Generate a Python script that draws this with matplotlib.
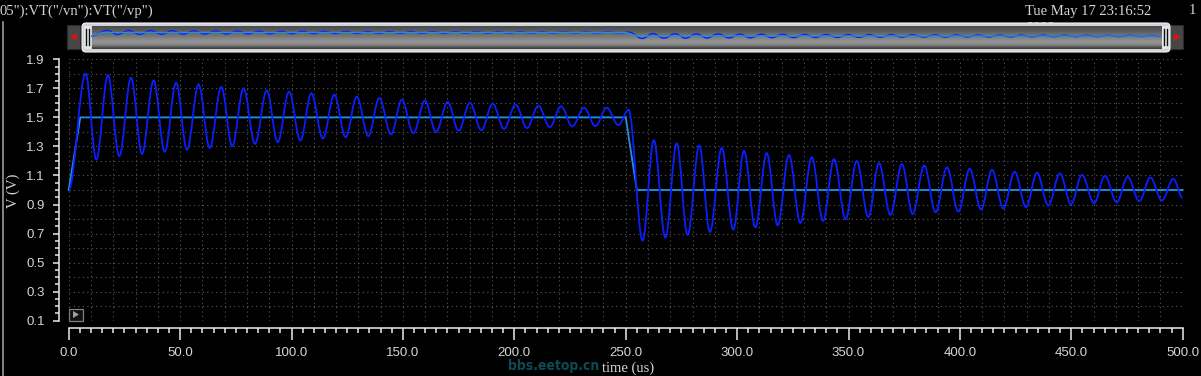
import matplotlib
matplotlib.use("Agg")
import matplotlib.pyplot as plt
import numpy as np
from matplotlib.path import Path
from matplotlib.patches import PathPatch, Rectangle, FancyBboxPatch, Polygon

# vn: peaks and troughs (time in us, volts)
vn_time = [0.0, 7.6, 12.4, 17.6, 22.7, 28.0, 32.9, 38.1, 43.1, 48.2, 53.1,
           58.3, 63.3, 68.5, 73.4, 78.5, 83.6, 88.9, 93.8, 98.9, 104.0,
           108.9, 114.1, 119.2, 124.3, 129.3, 134.5, 139.4, 144.7, 149.5, 154.7,
           159.9, 164.9, 170.1, 175.0, 180.1, 185.2, 190.3, 195.4, 200.6, 205.7,
           210.8, 215.9, 221.0, 226.0, 231.3, 236.4, 241.5, 246.7, 251.3, 257.6,
           262.6, 267.8, 272.9, 277.8, 283.0, 287.8, 293.1, 298.3, 303.1, 308.2,
           313.3, 318.2, 323.3, 328.4, 333.5, 338.6, 343.5, 348.7, 353.7, 358.9,
           363.7, 368.8, 374.0, 378.8, 384.0, 389.1, 394.2, 399.3, 404.4, 409.5,
           414.4, 419.5, 424.6, 429.7, 434.6, 439.7, 444.9, 449.9, 454.8, 460.2,
           465.1, 470.4, 475.3, 480.5, 485.5, 490.7, 495.8, 500.0]
vn_volt = [1.00, 1.80, 1.21, 1.79, 1.233, 1.773, 1.249, 1.755, 1.263, 1.739, 1.277,
           1.727, 1.29, 1.711, 1.302, 1.70, 1.318, 1.686, 1.33, 1.677, 1.341,
           1.666, 1.355, 1.656, 1.364, 1.642, 1.371, 1.633, 1.383, 1.621, 1.392,
           1.615, 1.40, 1.606, 1.408, 1.60, 1.412, 1.594, 1.421, 1.587, 1.426,
           1.58, 1.433, 1.576, 1.438, 1.566, 1.44, 1.566, 1.447, 1.552, 0.652,
           1.343, 0.672, 1.321, 0.69, 1.307, 0.711, 1.29, 0.728, 1.27, 0.743,
           1.254, 0.757, 1.24, 0.773, 1.226, 0.787, 1.212, 0.80, 1.199, 0.814,
           1.185, 0.828, 1.178, 0.835, 1.169, 0.847, 1.155, 0.852, 1.146, 0.866,
           1.139, 0.872, 1.125, 0.881, 1.118, 0.893, 1.114, 0.902, 1.104, 0.909,
           1.097, 0.914, 1.09, 0.923, 1.086, 0.928, 1.077, 0.945]

# vp: step reference
vp_time = [0.0, 5.2, 250.0, 255.0, 500.0]
vp_volt = [1.0, 1.5, 1.5, 1.0, 1.0]

x_major = np.arange(0, 501, 50)
y_major = np.arange(0.1, 1.91, 0.2)

FG = "#d6d6d6"
VN_COLOR = "#0a1eff"
VP_COLOR = "#2490dc"


def smooth_path(times, volts, k=0.36):
    """Cubic path through the extrema with flat tangents at each one."""
    verts = [(times[0], volts[0])]
    codes = [Path.MOVETO]
    for t0, v0, t1, v1 in zip(times[:-1], volts[:-1], times[1:], volts[1:]):
        dt = t1 - t0
        verts += [(t0 + k * dt, v0), (t1 - k * dt, v1), (t1, v1)]
        codes += [Path.CURVE4] * 3
    return Path(verts, codes)


W, H = 1201, 376
fig = plt.figure(figsize=(W / 100, H / 100), dpi=100, facecolor="black")

# pixel overlay for the viewer chrome
over = fig.add_axes([0, 0, 1, 1], zorder=0)
over.set_axis_off()
over.patch.set_alpha(0)

over.plot([2.5, 2.5], [22, 376], color="#9a9a9a", lw=1.2)
over.text(0, 11, '05"):VT("/vn"):VT("/vp")', color=FG, fontsize=10.5,
          family="Liberation Serif", va="center", ha="left", zorder=1)
over.text(1025, 11, "Tue May 17 23:16:52", color=FG, fontsize=10.5,
          family="Liberation Serif", va="center", ha="left", zorder=1)
over.text(1026, 28, "2022", color=FG, fontsize=10.5,
          family="Liberation Serif", va="center", ha="left", zorder=1)
over.text(1189, 11, "1", color=FG, fontsize=10.5,
          family="Liberation Serif", va="center", ha="left", zorder=1)

# scroll bar
over.add_patch(Rectangle((67, 25), 13, 24, facecolor="#464646",
                         edgecolor="#2a2a2a", lw=0.8, zorder=3))
over.add_patch(Rectangle((1169, 25), 14, 24, facecolor="#464646",
                         edgecolor="#2a2a2a", lw=0.8, zorder=3))
over.add_patch(Polygon([[70, 37], [77, 33.5], [77, 40.5]], closed=True,
                       facecolor="#e01010", edgecolor="none", zorder=4))
over.add_patch(Polygon([[1181, 37], [1174, 33.5], [1174, 40.5]], closed=True,
                       facecolor="#e01010", edgecolor="none", zorder=4))
over.add_patch(FancyBboxPatch((82, 23), 1088, 29, boxstyle="round,pad=0,rounding_size=4",
                              facecolor="#cfd3da", edgecolor="#f2f2f2", lw=0.8, zorder=3))
grad = np.array([0.30, 0.33, 0.36, 0.40, 0.44, 0.48, 0.52, 0.56, 0.58, 0.54, 0.42, 0.26])
over.imshow(grad[:, None], cmap="gray", vmin=0, vmax=1, aspect="auto",
            extent=(92, 1164, 49, 26), zorder=4, interpolation="bilinear")
for hx in (85, 1163):
    over.add_patch(Rectangle((hx - 1, 26), 7, 23, facecolor="#e4e6ea",
                             edgecolor="none", zorder=4))
    over.plot([hx + 1, hx + 1], [29, 45], color="#101010", lw=1.0, zorder=5)
    over.plot([hx + 3.5, hx + 3.5], [29, 45], color="#101010", lw=1.0, zorder=5)

# play button
over.add_patch(Rectangle((68.5, 308.5), 14, 12, facecolor="#111111",
                         edgecolor="#808080", lw=0.9, zorder=3))
over.add_patch(Polygon([[73, 311], [73, 318], [79, 314.5]], closed=True,
                       facecolor="#a0a0a0", edgecolor="none", zorder=4))

over.text(13, 191, "V (V)", color=FG, fontsize=10.5, family="Liberation Serif",
          rotation=90, va="center", ha="center")
over.text(628, 368, "time (us)", color=FG, fontsize=10.5, family="Liberation Serif",
          va="center", ha="center", zorder=1)
# site watermark, kept just left of the axis label
over.text(599, 366, "bbs.eetop.cn", color="#0d4b54", fontsize=10, fontweight="bold",
          family="DejaVu Sans", fontstretch="condensed", va="center", ha="right",
          zorder=2)

over.set_xlim(0, W)
over.set_ylim(H, 0)

# main plot
ax = fig.add_axes([68.7 / W, 55.3 / H, 1114 / W, 261.4 / H], zorder=1)
ax.patch.set_alpha(0)
ax.set_xlim(0, 500)
ax.set_ylim(0.1, 1.9)

for t in np.arange(0, 501, 10):
    ax.axvline(t, color="#5a5a5a", lw=0.8, ls=(0, (1, 3)), zorder=0)
for v in np.arange(0.1, 1.91, 0.1):
    ax.axhline(v, color="#5a5a5a", lw=0.8, ls=(0, (1, 3)), zorder=0)

ax.plot(vp_time, vp_volt, color=VP_COLOR, lw=1.3, zorder=2, clip_on=False)
ax.add_patch(PathPatch(smooth_path(vn_time, vn_volt), facecolor="none",
                       edgecolor=VN_COLOR, lw=1.3, zorder=3))

for side in ("top", "right"):
    ax.spines[side].set_visible(False)
ax.spines["left"].set_position(("outward", 7))
ax.spines["bottom"].set_position(("outward", 5.3))
for side in ("left", "bottom"):
    ax.spines[side].set_color("#ececec")
    ax.spines[side].set_linewidth(1.1)

ax.set_xticks(x_major)
ax.set_xticklabels([f"{v:.1f}" for v in x_major])
ax.set_xticks(np.arange(0, 501, 5), minor=True)
ax.set_yticks(y_major)
ax.set_yticklabels([f"{v:.1f}" for v in y_major])
ax.set_yticks(np.arange(0.1, 1.91, 0.05), minor=True)
ax.tick_params(axis="x", which="major", length=8.6, width=1.1, color="#ececec",
               labelcolor=FG, labelsize=9.5, pad=5)
ax.tick_params(axis="x", which="minor", length=3.6, width=1.1, color="#ececec")
ax.tick_params(axis="y", which="major", length=4.3, width=1.1, color="#ececec",
               labelcolor=FG, labelsize=9.5, pad=6)
ax.tick_params(axis="y", which="minor", length=2.9, width=1.1, color="#ececec")
for lab in ax.get_xticklabels() + ax.get_yticklabels():
    lab.set_family("Liberation Sans")

# overview strip inside the scroll bar
mini = fig.add_axes([91 / W, (H - 48) / H, 1070 / W, 24 / H], zorder=2)
mini.set_axis_off()
mini.patch.set_alpha(0)
mini.set_xlim(0, 500)
mini.set_ylim(-0.714, 2.714)
mini.plot(vp_time, vp_volt, color=VP_COLOR, lw=1.0)
mini.add_patch(PathPatch(smooth_path(vn_time, vn_volt), facecolor="none",
                         edgecolor=VN_COLOR, lw=1.0))

fig.savefig("out.png", dpi=100, facecolor="black")
